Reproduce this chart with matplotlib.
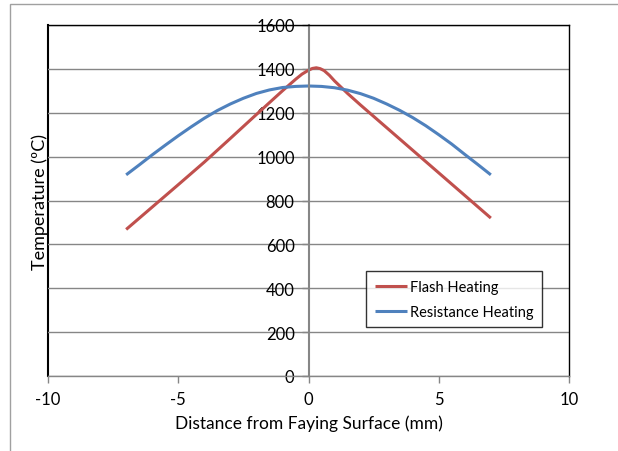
import matplotlib.pyplot as plt
from matplotlib.patches import Rectangle

plt.rcParams['font.family'] = ['Lato', 'DejaVu Sans']
plt.rcParams['axes.unicode_minus'] = False

# Flash Heating (red)
flash_x = [-7, -6, -5, -4, -3, -2, -1, -0.75, -0.5, -0.25, 0,
           0.15, 0.3, 0.45, 0.6, 0.8, 1, 1.5, 2, 3, 4, 5, 6, 7]
flash_y = [668, 770, 872, 975, 1083, 1192, 1300, 1326, 1352, 1376, 1394,
           1402, 1405, 1401, 1392, 1371, 1345, 1288, 1235, 1132, 1029, 926, 823, 720]

# Resistance Heating (blue)
resist_x = [-7, -6.5, -6, -5.5, -5, -4.5, -4, -3.5, -3, -2.5, -2, -1.5, -1, -0.5, 0,
            0.5, 1, 1.5, 2, 2.5, 3, 3.5, 4, 4.5, 5, 5.5, 6, 6.5, 7]
resist_y = [917, 962, 1008, 1052, 1095, 1136, 1175, 1210, 1240, 1266, 1288, 1304, 1315, 1320, 1322,
            1320, 1314, 1303, 1287, 1266, 1240, 1211, 1178, 1141, 1100, 1057, 1010, 964, 917]

xticks = [-10, -5, 0, 5, 10]
yticks = [0, 200, 400, 600, 800, 1000, 1200, 1400, 1600]

red = '#C0504D'
blue = '#4F81BD'
gray = '#868686'

fig = plt.figure(figsize=(6.18, 4.52), dpi=100)
fig.patches.append(Rectangle((10 / 618, -0.01), 1.0, 1 - 5 / 452 + 0.01, transform=fig.transFigure,
                             fill=False, edgecolor='#A0A0A0', linewidth=1.0))
ax = fig.add_axes([48 / 618, 75 / 452, 521 / 618, 351 / 452])

ax.plot(flash_x, flash_y, color=red, linewidth=2.2, label='Flash Heating', solid_capstyle='butt')
ax.plot(resist_x, resist_y, color=blue, linewidth=2.2, label='Resistance Heating', solid_capstyle='butt')

ax.set_xlim(-10, 10)
ax.set_ylim(0, 1600)
ax.set_xticks(xticks)
ax.set_yticks(yticks)
ax.yaxis.grid(True, color=gray, linewidth=1.0)
ax.set_axisbelow(True)

ax.spines['left'].set_position(('data', 0))
ax.spines['left'].set_color(gray)
ax.spines['left'].set_linewidth(1.5)
ax.spines['bottom'].set_color(gray)
ax.spines['bottom'].set_linewidth(1.0)
for s in ['top', 'right']:
    ax.spines[s].set_color('black')
    ax.spines[s].set_linewidth(1.0)
ax.axvline(-10, color='black', linewidth=1.5, clip_on=False, zorder=0)

ax.tick_params(axis='y', length=5, width=1, color=gray, pad=5, labelsize=12)
ax.tick_params(axis='x', length=5, width=1, color=gray, pad=6, labelsize=12)

ax.set_xlabel('Distance from Faying Surface (mm)', fontsize=12.5, labelpad=5)
ax.set_ylabel('Temperature (ºC)', fontsize=13)
ax.yaxis.set_label_coords(0.0, 0.5)

leg = ax.legend(loc='upper left', bbox_to_anchor=(0.61, 0.299),
                fontsize=10.5, frameon=True, fancybox=False, handlelength=2.2, handletextpad=0.2,
                borderaxespad=0, borderpad=0.6, labelspacing=0.75)
leg.get_frame().set_edgecolor('black')
leg.get_frame().set_linewidth(1.0)

fig.savefig('out.png', dpi=100)
